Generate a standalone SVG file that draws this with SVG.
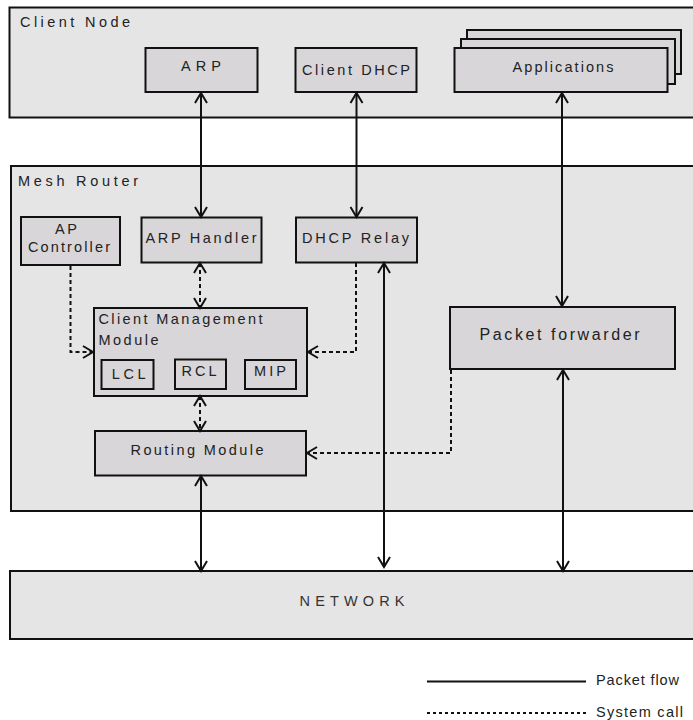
<svg xmlns="http://www.w3.org/2000/svg" width="693" height="720" viewBox="0 0 693 720">
<style>
  .outer{fill:#e5e5e5;stroke:#111;stroke-width:2}
  .box{fill:#d8d6d8;stroke:#111;stroke-width:2}
  .t{font-family:"Liberation Sans",Arial,sans-serif;font-size:14.5px;fill:#222}
  .m{text-anchor:middle}
  .solid{fill:none;stroke:#111;stroke-width:2}
  .dash{fill:none;stroke:#111;stroke-width:2;stroke-dasharray:4 3}
</style>
<defs>
  <marker id="ah" viewBox="-12 -8 14 16" refX="0" refY="0" markerWidth="14" markerHeight="16" markerUnits="userSpaceOnUse" orient="auto-start-reverse">
    <path d="M-10,-6 L0,0 L-10,6" fill="none" stroke="#111" stroke-width="2" stroke-dasharray="none"/>
  </marker>
</defs>
<rect width="693" height="720" fill="#fff"/>

<g id="client-node">
  <rect class="outer" x="9.5" y="7.5" width="690" height="110"/>
  <text class="t" x="20" y="27" textLength="110" lengthAdjust="spacing">Client Node</text>
</g>
<g id="arp">
  <rect class="box" x="145.5" y="48" width="112" height="44"/>
  <text class="t m" x="201" y="71" textLength="40" lengthAdjust="spacing">ARP</text>
</g>
<g id="client-dhcp">
  <rect class="box" x="295.5" y="48" width="121" height="44"/>
  <text class="t m" x="356" y="75" textLength="108" lengthAdjust="spacing">Client DHCP</text>
</g>
<g id="applications">
  <rect class="box" x="467" y="30" width="214" height="44"/>
  <rect class="box" x="461" y="39" width="214" height="45"/>
  <rect class="box" x="454.5" y="48" width="213" height="44"/>
  <text class="t m" x="563" y="72" textLength="101" lengthAdjust="spacing">Applications</text>
</g>

<g id="mesh-router">
  <rect class="outer" x="11" y="166" width="690" height="345"/>
  <text class="t" x="18" y="186" textLength="120" lengthAdjust="spacing">Mesh Router</text>
</g>
<g id="ap-controller">
  <rect class="box" x="21" y="217" width="99" height="48"/>
  <text class="t m" x="66" y="234" textLength="22" lengthAdjust="spacing">AP</text>
  <text class="t m" x="69" y="252" textLength="82" lengthAdjust="spacing">Controller</text>
</g>
<g id="arp-handler">
  <rect class="box" x="141.5" y="217.5" width="120" height="45"/>
  <text class="t m" x="201" y="243" textLength="111" lengthAdjust="spacing">ARP Handler</text>
</g>
<g id="dhcp-relay">
  <rect class="box" x="296" y="217.5" width="121" height="45"/>
  <text class="t m" x="355.5" y="243" textLength="107" lengthAdjust="spacing">DHCP Relay</text>
</g>
<g id="client-management-module">
  <rect class="box" x="94" y="308" width="213" height="88"/>
  <text class="t" x="98.5" y="324" textLength="164" lengthAdjust="spacing">Client Management</text>
  <text class="t" x="98.5" y="345" textLength="60" lengthAdjust="spacing">Module</text>
</g>
<g id="lcl">
  <rect class="box" x="101.5" y="360" width="52" height="29"/>
  <text class="t m" x="128.7" y="379" textLength="34" lengthAdjust="spacing">LCL</text>
</g>
<g id="rcl">
  <rect class="box" x="175" y="359.5" width="51" height="29.5"/>
  <text class="t m" x="199" y="376" textLength="35" lengthAdjust="spacing">RCL</text>
</g>
<g id="mip">
  <rect class="box" x="245" y="360" width="51" height="29"/>
  <text class="t m" x="270" y="376" textLength="32" lengthAdjust="spacing">MIP</text>
</g>
<g id="routing-module">
  <rect class="box" x="95" y="431" width="211" height="44.5"/>
  <text class="t m" x="197" y="455" textLength="133" lengthAdjust="spacing">Routing Module</text>
</g>
<g id="packet-forwarder">
  <rect class="box" x="450" y="307" width="225" height="62"/>
  <text class="t m" x="559.5" y="340" style="font-size:16px" textLength="160" lengthAdjust="spacing">Packet forwarder</text>
</g>
<g id="network">
  <rect class="outer" x="10" y="571" width="690" height="68"/>
  <text class="t m" x="352" y="606" style="fill:#333" textLength="105" lengthAdjust="spacing">NETWORK</text>
</g>

<g id="connectors">
  <line class="solid" x1="201" y1="93" x2="201" y2="217" marker-start="url(#ah)" marker-end="url(#ah)"/>
  <line class="solid" x1="356.5" y1="93" x2="356.5" y2="217" marker-start="url(#ah)" marker-end="url(#ah)"/>
  <line class="solid" x1="562" y1="93" x2="562" y2="306" marker-start="url(#ah)" marker-end="url(#ah)"/>
  <line class="solid" x1="384" y1="263" x2="384" y2="567" marker-start="url(#ah)" marker-end="url(#ah)"/>
  <line class="solid" x1="563" y1="370" x2="563" y2="571" marker-start="url(#ah)" marker-end="url(#ah)"/>
  <line class="solid" x1="201" y1="476" x2="201" y2="571" marker-start="url(#ah)" marker-end="url(#ah)"/>
  <line class="dash" x1="200" y1="263" x2="200" y2="308" marker-start="url(#ah)" marker-end="url(#ah)"/>
  <line class="dash" x1="200" y1="396" x2="200" y2="431" marker-start="url(#ah)" marker-end="url(#ah)"/>
  <path class="dash" d="M70.5,266 V352 H93" marker-end="url(#ah)"/>
  <path class="dash" d="M356,263 V352 H308" marker-end="url(#ah)"/>
  <path class="dash" d="M451,370 V453 H307" marker-end="url(#ah)"/>
</g>

<g id="legend">
  <line class="solid" x1="427" y1="681.5" x2="586" y2="681.5"/>
  <text class="t" x="596" y="685" textLength="83" lengthAdjust="spacing">Packet flow</text>
  <line class="dash" x1="427" y1="713" x2="586" y2="713" style="stroke-dasharray:3 3"/>
  <text class="t" x="596" y="717" textLength="87" lengthAdjust="spacing">System call</text>
</g>
</svg>
